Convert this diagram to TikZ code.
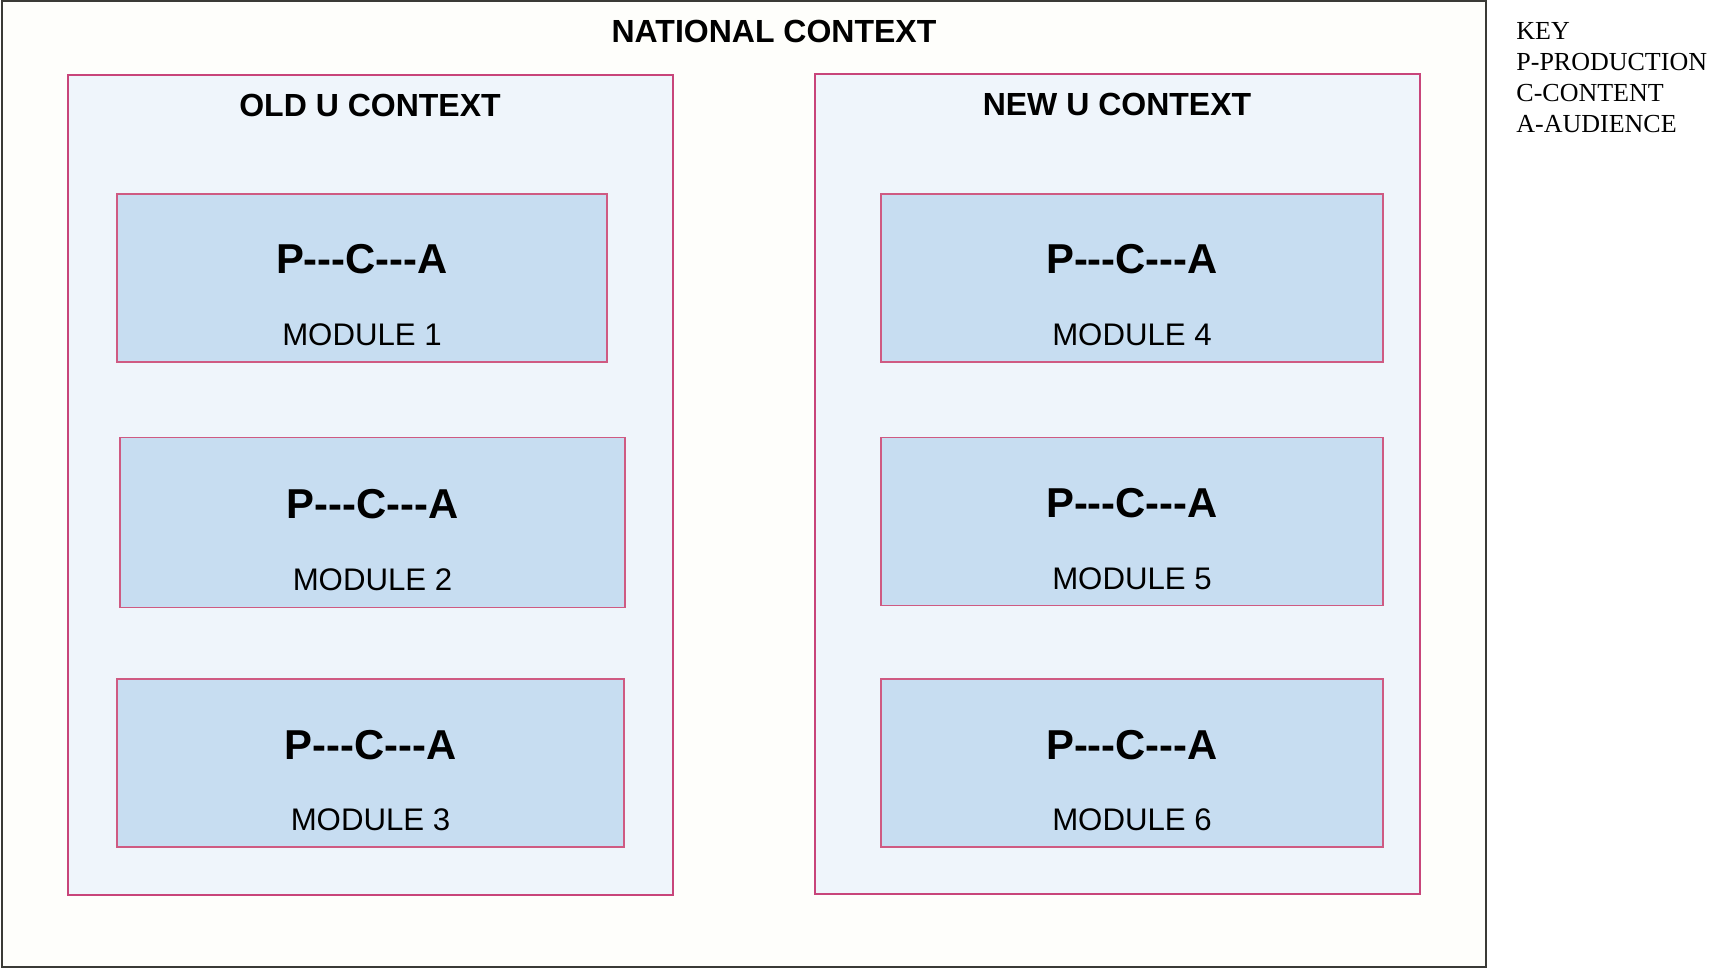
\documentclass[tikz,border=0pt]{standalone}
\usepackage{fontspec}
\setmainfont{Liberation Sans}
\newfontfamily\keyfont{Liberation Serif}
\usetikzlibrary{positioning}
\definecolor{natfill}{HTML}{FEFEFB}
\definecolor{natline}{HTML}{3A3A36}
\definecolor{ctxfill}{HTML}{EFF5FB}
\definecolor{ctxline}{HTML}{C8457A}
\definecolor{modfill}{HTML}{C7DDF1}
\definecolor{modline}{HTML}{CF5A82}
\tikzset{
  natbox/.style={
    draw=natline, fill=natfill, line width=1pt, inner sep=0pt,
    minimum width=742pt, minimum height=483pt
  },
  ctxbox/.style={
    draw=ctxline, fill=ctxfill, line width=1pt, inner sep=0pt,
    minimum width=302.5pt, minimum height=410pt
  },
  modbox/.style={
    draw=modline, fill=modfill, line width=0.8pt, inner sep=0pt,
    minimum width=251pt, minimum height=84pt
  },
  ttl/.style={font=\fontsize{16}{19}\selectfont\bfseries, inner sep=0pt},
  pca/.style={font=\fontsize{20.9}{24}\selectfont\bfseries, inner sep=0pt},
  modlbl/.style={font=\fontsize{15.6}{18}\selectfont, inner sep=0pt},
  keytxt/.style={font=\keyfont\fontsize{13}{15.5}\selectfont, align=left, inner sep=0pt}
}

\begin{document}
\begin{tikzpicture}[x=0.5pt, y=-0.5pt]
  \fill[white] (0,0) rectangle (1710,970);
  \useasboundingbox (0,0) rectangle (1710,970);

  % national frame
  \node[natbox] (nat) at (744,484) {};
  \node[ttl] (natttl) at (774,31) {NATIONAL CONTEXT};

  % the two university contexts
  \node[ctxbox] (old) at (370,485) {};
  \node[ttl, below=9.75pt of old.north] (oldttl) {OLD U CONTEXT};
  \node[ctxbox] (new) at (1117,484) {};
  \node[ttl, below=9.75pt of new.north] (newttl) {NEW U CONTEXT};

  % modules, old U
  \node[modbox, minimum width=245pt] (m1) at (362,278) {};
  \node[modbox, minimum width=252.5pt, minimum height=85pt, below=37pt of m1, xshift=5.25pt] (m2) {};
  \node[modbox, minimum width=253.5pt, below=35pt of m2, xshift=-1pt] (m3) {};

  % modules, new U
  \node[modbox] (m4) at (1132,278) {};
  \node[modbox, below=37pt of m4] (m5) {};
  \node[modbox, below=36pt of m5] (m6) {};

  \node[pca] (p1) at ([yshift=9.25pt]m1.center) {P-{}-{}-C-{}-{}-A};
  \node[modlbl] (l1) at ([yshift=-28.5pt]m1.center) {MODULE 1};
  \node[pca] (p2) at ([yshift=9.25pt]m2.center) {P-{}-{}-C-{}-{}-A};
  \node[modlbl] (l2) at ([yshift=-28.5pt]m2.center) {MODULE 2};
  \node[pca] (p3) at ([yshift=9.25pt]m3.center) {P-{}-{}-C-{}-{}-A};
  \node[modlbl] (l3) at ([yshift=-28.5pt]m3.center) {MODULE 3};
  \node[pca] (p4) at ([yshift=9.25pt]m4.center) {P-{}-{}-C-{}-{}-A};
  \node[modlbl] (l4) at ([yshift=-28.5pt]m4.center) {MODULE 4};
  \node[pca] (p5) at ([yshift=9.25pt]m5.center) {P-{}-{}-C-{}-{}-A};
  \node[modlbl] (l5) at ([yshift=-28.5pt]m5.center) {MODULE 5};
  \node[pca] (p6) at ([yshift=9.25pt]m6.center) {P-{}-{}-C-{}-{}-A};
  \node[modlbl] (l6) at ([yshift=-28.5pt]m6.center) {MODULE 6};

  % key
  \node[keytxt, anchor=north west] (key) at (1516,22)
    {KEY\\P-PRODUCTION\\C-CONTENT\\A-AUDIENCE};
\end{tikzpicture}
\end{document}
